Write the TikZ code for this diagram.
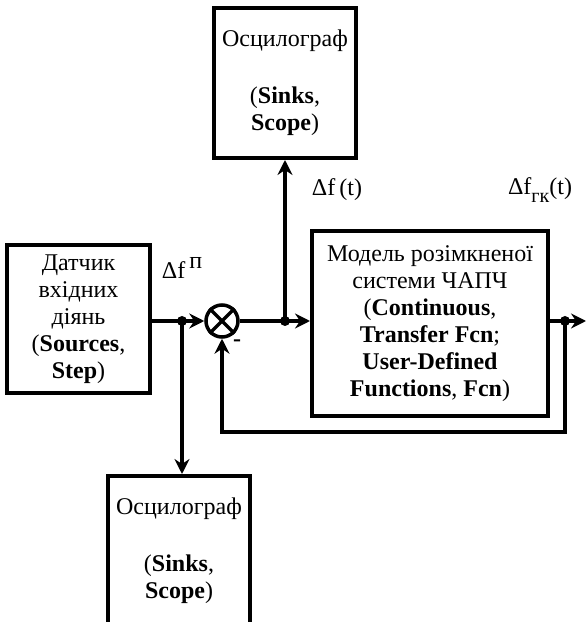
\documentclass[tikz,border=0pt]{standalone}
\usepackage{fontspec}
\setmainfont{Liberation Serif}
\usetikzlibrary{arrows.meta}
\tikzset{blok/.style={draw, line width=4pt, align=center, inner sep=0pt},
 liniya/.style={line width=3.5pt},
 zvyazok/.style={line width=3.5pt, -{Stealth[length=15pt,width=15pt,inset=5pt]}},
 vuzol/.style={circle, fill, inner sep=0pt, minimum size=10pt},
 mitka/.style={inner sep=0pt},
 }

\begin{document}
\begin{tikzpicture}[x=1pt,y=1pt,font=\fontsize{24}{27}\selectfont]
        \useasboundingbox (0,0) rectangle (586,622);
        % bloky
        \node[blok, minimum width=143pt, minimum height=148pt] (datchyk) at (78.5,303)
            {Датчик\\вхідних\\діянь\\(\textbf{Sources},\\\textbf{Step})};
        \node[blok, minimum width=236pt, minimum height=185pt] (model) at (430,298.5)
            {Модель розімкненої\\системи ЧАПЧ\\(\textbf{Continuous},\\\textbf{Transfer Fcn};\\\textbf{User-Defined}\\\textbf{Functions}, \textbf{Fcn})};
        \node[blok, minimum width=142pt, minimum height=150pt] (osc1) at (285,539)
            {Осцилограф\\[30pt](\textbf{Sinks},\\\textbf{Scope})};
        \node[blok, minimum width=142pt, minimum height=150pt] (osc2) at (179,71)
            {Осцилограф\\[30pt](\textbf{Sinks},\\\textbf{Scope})};
        \node[circle, draw, line width=3.5pt, minimum size=32pt, inner sep=0pt] (sum) at (222,301) {};
        \draw[liniya] (sum.north west) -- (sum.south east);
        \draw[liniya] (sum.north east) -- (sum.south west);

        % vuzly
        \coordinate (v1) at (182,301);
        \coordinate (v2) at (285,301);
        \coordinate (v3) at (565,301);
        \coordinate (vyhid) at (586,301);
        \coordinate (nyz) at (565,190);

        % zv'yazky
        \draw[liniya] (datchyk.east |- v1) -- (v1);
        \draw[zvyazok] (v1) -- (sum.west);
        \draw[zvyazok] (v1) -- (v1 |- osc2.north);
        \draw[liniya] (sum.east) -- (v2);
        \draw[zvyazok] (v2) -- (model.west |- v2);
        \draw[zvyazok] (v2) -- (osc1.south);
        \draw[liniya] (model.east |- v3) -- (v3);
        \draw[zvyazok] (v3) -- (vyhid);
        \draw[zvyazok] (v3) -- (nyz) -| (sum.south);
        \foreach \v in {v1, v2, v3} {
            \node[vuzol] at (\v) {};
        }

        % mitky
        \node[mitka] (df) at (182,354) {Δf\raisebox{0.45em}{\,п}};
        \node[mitka] (dft) at (337,432) {Δf\,(t)};
        \node[mitka] (dfgk) at (540,432) {Δf\raisebox{-0.3em}{\fontsize{20}{20}\selectfont гк}(t)};
        \node[mitka] (minus) at (237,279) {\textbf{-}};
    \end{tikzpicture}
\end{document}
